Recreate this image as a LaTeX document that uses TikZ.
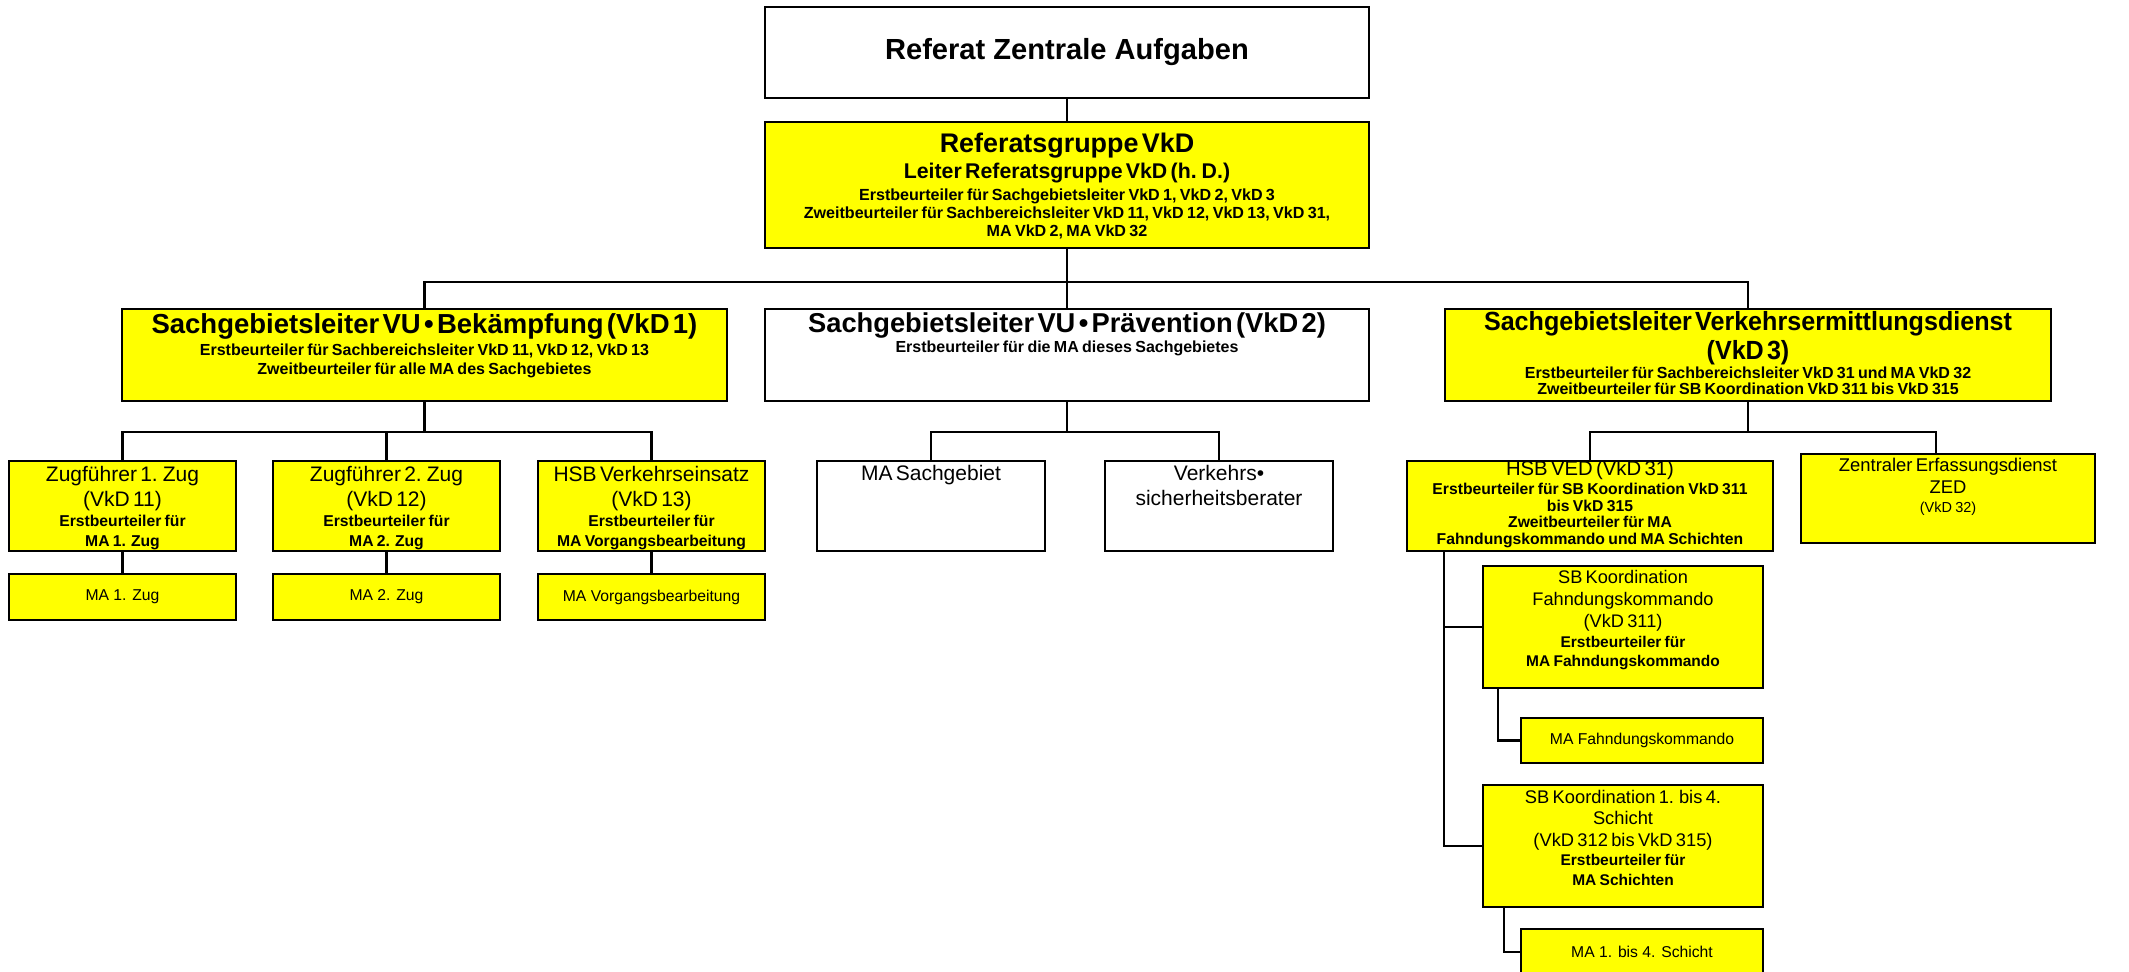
\documentclass[tikz,border=0pt]{standalone}
\usepackage{fontspec}
\usepackage{graphicx}
\setmainfont{Liberation Sans}
\definecolor{yel}{RGB}{255,255,0}
\newcommand\tline[3]{{\fontsize{#1}{#2}\selectfont #3\par}}
\newcommand\tlineb[3]{{\fontsize{#1}{#2}\selectfont\bfseries #3\par}}
\newcommand\tlinec[3]{{\fontsize{#1}{#2}\selectfont\bfseries\scalebox{0.955}[1]{#3}\par}}
\lineskiplimit=-1000pt
\parindent=0pt
\begin{document}
\begin{tikzpicture}[x=1pt,y=-1pt,
  box/.style={draw=black, line width=2.4pt, inner sep=0pt, outer sep=0pt},
  ybox/.style={box, fill=yel},
  txt/.style={inner sep=0pt, anchor=north, align=center, text width=#1,
    execute at begin node={\lineskiplimit=-1000pt\parindent=0pt}},
  conn/.style={line width=2.2pt},
  small/.style={font=\fontsize{15.7}{19}\selectfont}]
\useasboundingbox (0,0) rectangle (2129,972);

% ---------- boxes ----------
\node[box, minimum width=604pt, minimum height=91pt, font=\fontsize{29.1}{34}\selectfont\bfseries] (top) at (1067,52.5) {Referat Zentrale Aufgaben};

\node[ybox, minimum width=604pt, minimum height=126pt] (rg) at (1067,185) {};
\node[txt=590pt] (rgT) at (1067,130.2) {\tlineb{26.9}{31.2}{\strut Referatsgruppe VkD}\tlineb{21.3}{26.5}{Leiter Referatsgruppe VkD (h. D.)}\tlineb{16.1}{22}{Erstbeurteiler für Sachgebietsleiter VkD 1, VkD 2, VkD 3}\tlineb{16.1}{18}{Zweitbeurteiler für Sachbereichsleiter VkD 11, VkD 12, VkD 13, VkD 31,}\tlineb{16.1}{18}{MA VkD 2, MA VkD 32}};

\node[ybox, minimum width=605pt, minimum height=92pt] (v1) at (424.5,355) {};
\node[txt=600pt] (v1T) at (424.5,310.8) {\tlineb{27.5}{31.8}{\strut Sachgebietsleiter VU • Bekämpfung (VkD 1)}\tlineb{16}{22.6}{Erstbeurteiler für Sachbereichsleiter VkD 11, VkD 12, VkD 13}\tlineb{16}{19}{Zweitbeurteiler für alle MA des Sachgebietes}};

\node[box, minimum width=604pt, minimum height=92pt] (v2) at (1067,355) {};
\node[txt=600pt] (v2T) at (1067,310.3) {\tlineb{27.3}{31.2}{\strut Sachgebietsleiter VU • Prävention (VkD 2)}\tlineb{16}{20.5}{Erstbeurteiler für die MA dieses Sachgebietes}};

\node[ybox, minimum width=606pt, minimum height=92pt] (v3) at (1748,355) {};
\node[txt=600pt] (v3T) at (1748,308.56) {\tlinec{26.3}{31.2}{\strut Sachgebietsleiter Verkehrsermittlungsdienst}\tlinec{26.3}{29}{(VkD 3)}\tlineb{16}{18.5}{Erstbeurteiler für Sachbereichsleiter VkD 31 und MA VkD 32}\tlineb{16}{16.5}{Zweitbeurteiler für SB Koordination VkD 311 bis VkD 315}};

\node[ybox, minimum width=227pt, minimum height=90pt] (z1) at (122.5,506) {};
\node[txt=220pt] (z1T) at (122.5,463.16) {\tline{21}{25.2}{\strut Zugführer 1. Zug}\tline{21}{25.1}{(VkD 11)}\tlineb{15.7}{20.3}{Erstbeurteiler für}\tlineb{15.7}{20.2}{MA 1. Zug}};
\node[ybox, minimum width=227pt, minimum height=90pt] (z2) at (386.5,506) {};
\node[txt=220pt] (z2T) at (386.5,463.16) {\tline{21}{25.2}{\strut Zugführer 2. Zug}\tline{21}{25.1}{(VkD 12)}\tlineb{15.7}{20.3}{Erstbeurteiler für}\tlineb{15.7}{20.2}{MA 2. Zug}};
\node[ybox, minimum width=227pt, minimum height=90pt] (z3) at (651.5,506) {};
\node[txt=220pt] (z3T) at (651.5,463.16) {\tline{21}{25.2}{\strut HSB Verkehrseinsatz}\tline{21}{25.1}{(VkD 13)}\tlineb{15.7}{20.3}{Erstbeurteiler für}\tlineb{15.7}{20.2}{MA Vorgangsbearbeitung}};

\node[ybox, small, minimum width=227pt, minimum height=46pt] (m1) at (122.5,597) {MA 1. Zug};
\node[ybox, small, minimum width=227pt, minimum height=46pt] (m2) at (386.5,597) {MA 2. Zug};
\node[ybox, small, minimum width=227pt, minimum height=46pt] (m3) at (651.5,597) {MA Vorgangsbearbeitung};

\node[box, minimum width=228pt, minimum height=90pt] (ms) at (931,506) {};
\node[txt=220pt] (msT) at (931,462.96) {\tline{21}{25.2}{\strut MA Sachgebiet}};
\node[box, minimum width=228pt, minimum height=90pt] (vs) at (1219,506) {};
\node[txt=220pt] (vsT) at (1219,462.96) {\tline{21}{25.2}{\strut Verkehrs•}\tline{21}{25}{sicherheitsberater}};

\node[ybox, minimum width=366pt, minimum height=90pt] (hv) at (1590,506) {};
\node[txt=360pt] (hvT) at (1590,458.25) {\tline{20.3}{24.36}{\strut HSB VED (VkD 31)}\tlineb{15.7}{18.6}{Erstbeurteiler für SB Koordination VkD 311}\tlineb{15.7}{17.2}{bis VkD 315}\tlineb{15.7}{16.6}{Zweitbeurteiler für MA}\tlineb{15.7}{16.6}{Fahndungskommando und MA Schichten}};

\node[ybox, minimum width=294pt, minimum height=89pt] (zed) at (1948,498.5) {};
\node[txt=288pt] (zedT) at (1948,456.14) {\tline{18.4}{22.08}{\strut Zentraler Erfassungsdienst}\tline{18.4}{21.5}{ZED}\tline{14.5}{19.4}{(VkD 32)}};

\node[ybox, minimum width=280pt, minimum height=122pt] (sbf) at (1623,627) {};
\node[txt=274pt] (sbfT) at (1623,568.31) {\tline{18.2}{21.84}{\strut SB Koordination}\tline{18.2}{22}{Fahndungskommando}\tline{18.2}{22}{(VkD 311)}\tlineb{15.5}{20}{Erstbeurteiler für}\tlineb{15.5}{19}{MA Fahndungskommando}};
\node[ybox, small, minimum width=242pt, minimum height=45pt] (maf) at (1642,740.5) {MA Fahndungskommando};

\node[ybox, minimum width=280pt, minimum height=122pt] (sbs) at (1623,846) {};
\node[txt=274pt] (sbsT) at (1623,788.23) {\tline{18.3}{21.96}{\strut SB Koordination 1. bis 4.}\tline{18.3}{21}{Schicht}\tline{18.3}{22}{(VkD 312 bis VkD 315)}\tlineb{15.5}{19}{Erstbeurteiler für}\tlineb{15.5}{20}{MA Schichten}};
\node[ybox, small, minimum width=242pt, minimum height=46pt] (mas) at (1642,952) {MA 1. bis 4. Schicht};

% ---------- connectors ----------
\coordinate (busA) at (0,282);
\coordinate (busB) at (0,432);
\coordinate (trunk) at (1444,0);
\coordinate (dropF) at (1498,0);
\coordinate (dropS) at (1504,0);
\coordinate (zedc) at (1936,0);

\draw[conn] (top.south) -- (rg.north);
\draw[conn] (rg.south) -- (rg.south |- busA);
\draw[conn] (v1.north) -- (v1.north |- busA) -- (v3.north |- busA) -- (v3.north);
\draw[conn] (v2.north) -- (v2.north |- busA);

\draw[conn] (v1.south) -- (v1.south |- busB);
\draw[conn] (z1.north) -- (z1.north |- busB) -- (z3.north |- busB) -- (z3.north);
\draw[conn] (z2.north) -- (z2.north |- busB);
\draw[conn] (z1.south) -- (m1.north);
\draw[conn] (z2.south) -- (m2.north);
\draw[conn] (z3.south) -- (m3.north);

\draw[conn] (v2.south) -- (v2.south |- busB);
\draw[conn] (ms.north) -- (ms.north |- busB) -- (vs.north |- busB) -- (vs.north);

\draw[conn] (v3.south) -- (v3.south |- busB);
\draw[conn] (hv.north) -- (hv.north |- busB) -- (zedc |- busB) -- (zed.north -| zedc);

\draw[conn] (hv.south -| trunk) -- (sbs.west -| trunk) -- (sbs.west);
\draw[conn] (sbf.west -| trunk) -- (sbf.west);
\draw[conn] (sbf.south -| dropF) |- (maf.west);
\draw[conn] (sbs.south -| dropS) |- (mas.west);
\end{tikzpicture}
\end{document}
